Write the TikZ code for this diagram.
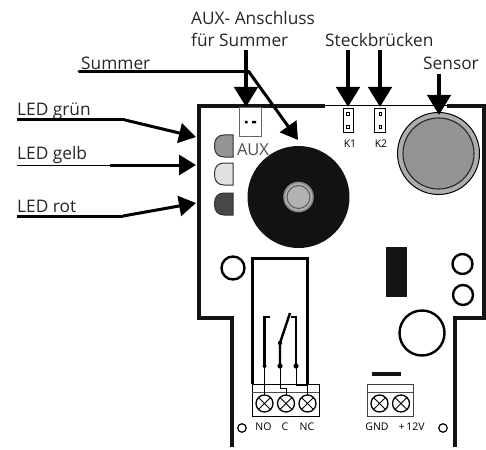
\documentclass[tikz,border=0pt]{standalone}
\usepackage{fontspec}
\setmainfont{Open Sans}
\usetikzlibrary{arrows.meta}
\tikzset{
  px/.style={x=1pt,y=-1pt},
  lab/.style={font=\fontsize{17.3}{18}\selectfont,inner sep=0pt,text=black!85},
  small/.style={font=\fontsize{10.5}{11}\selectfont,inner sep=0pt,text=black},
  board/.style={line width=4pt,black!92},
  lead/.style={line width=3pt,black},
  big/.style={line width=4.4pt,-{Triangle[length=20pt,width=23pt]}},
  mid/.style={line width=3pt,-{Triangle[length=17pt,width=20pt]}},
  hole/.style={circle,draw=black,line width=2.4pt,fill=white,inner sep=0pt},
  screw/.style={circle,draw=black,line width=1.3pt,fill=white,minimum size=17pt,inner sep=0pt,path picture={\draw[line width=1pt] (path picture bounding box.south west)--(path picture bounding box.north east) (path picture bounding box.north west)--(path picture bounding box.south east);}},
  ledshape/.style={draw=black!80,line width=1pt},
  wire/.style={line width=.9pt},
  relay/.style={line width=2.4pt}
}
\begin{document}
\begin{tikzpicture}[px]
\useasboundingbox (0,0) rectangle (486,449);
% board
\draw[board] (325,106) -- (199,106) -- (199,318) -- (232,318) -- (232,447);
\draw[line width=1pt] (325,106) -- (447,106);
\draw[board] (447,106) -- (484,106) -- (484,318) -- (455,318) -- (455,447);
% AUX
\draw[line width=1pt,black!60] (239,108) rectangle (261,137);
\fill (245,121) rectangle (247.5,123.5) (252,121) rectangle (256,123.5);
\node[lab,text=black!70,font=\fontsize{16.5}{17}\selectfont] (aux) at (253,150) {AUX};
% jumpers
\draw[line width=.8pt] (343,108) rectangle (353.5,132);
\draw[line width=.8pt] (374.5,108) rectangle (385.5,132);
\draw[line width=1pt] (346.5,112.5) rectangle (349.5,115.5) (346.5,125.5) rectangle (349.5,128.5);
\draw[line width=1pt] (379,112.5) rectangle (381.5,115.5) (379,125.5) rectangle (381.5,128.5);
\node[small] (k1) at (350,144) {K1};
\node[small] (k2) at (381,144) {K2};
% sensor
\node[circle,draw=black,line width=1pt,fill=black!32,minimum size=82pt,inner sep=0pt] (sensorc) at (438.5,153.5) {};
\node[circle,draw=black!85,line width=1.1pt,fill=black!42,minimum size=71pt,inner sep=0pt] at (438.5,153.5) {};
% LEDs
\draw[ledshape,fill=black!42] (233,135) -- (224,135) .. controls (218,135) and (214.5,139) .. (214.5,145) -- (214.5,147) .. controls (214.5,153) and (218,157) .. (224,157) -- (233,157) -- cycle;
\draw[ledshape,fill=black!12] (233,163) -- (224,163) .. controls (218,163) and (214.5,167) .. (214.5,173) -- (214.5,175) .. controls (214.5,181) and (218,185) .. (224,185) -- (233,185) -- cycle;
\draw[ledshape,fill=black!72] (233,193) -- (224,193) .. controls (218,193) and (214.5,197) .. (214.5,203) -- (214.5,205) .. controls (214.5,211) and (218,215) .. (224,215) -- (233,215) -- cycle;
% summer
\node[circle,fill=black!93,minimum size=102pt,inner sep=0pt] (sum) at (298.5,197) {};
\node[circle,draw=black!45,fill=black!30,line width=1.6pt,minimum size=29pt,inner sep=0pt] at (298.5,197) {};
\node[circle,draw=black!65,line width=1pt,minimum size=23pt,inner sep=0pt] at (298.5,197) {};
% holes
\node[hole,minimum size=23pt] (h1) at (233,268) {};
\node[hole,minimum size=20pt] (h2) at (462.5,264) {};
\node[hole,minimum size=20pt] (h3) at (463,295) {};
\node[hole,minimum size=45pt] (h4) at (422,333) {};
\node[hole,line width=1.2pt,minimum size=8.5pt] (h5) at (242,428) {};
\node[hole,line width=1.2pt,minimum size=8.5pt] (h6) at (443,428) {};
% black block
\fill[black!92] (386,247) rectangle (407,297);
\fill[black!92] (372,372) rectangle (401,376);
% relay
\draw[relay] (252.5,384) -- (252.5,258.5) -- (307.5,258.5) -- (307.5,384);
\draw[relay] (270,317) -- (264.5,317) -- (264.5,366);
\draw[relay] (280,366) -- (280,343) -- (290,313);
\draw[relay] (296,366) -- (296,317) -- (291,317);
\fill (264.5,366) circle (2pt) (280,366) circle (2.6pt) (296,366) circle (2.6pt) (280,343) circle (2.2pt);
% terminals
\draw[line width=1pt] (252,384) rectangle (319,416);
\draw[line width=.7pt,black!70] (252,392.5) -- (319,392.5);
\draw[wire] (264.5,366) -- (264.5,403);
\draw[wire] (280,366) -- (280,388) -- (286,388) -- (286,403);
\draw[wire] (296,366) -- (296,385) -- (307,385) -- (307,403);
\node[screw] (s1) at (264.5,403.5) {};
\node[screw] (s2) at (286,403.5) {};
\node[screw] (s3) at (307.5,403.5) {};
\draw[line width=1pt,black!75] (367.5,384) rectangle (413,416);
\draw[line width=.7pt,black!70] (367.5,392.5) -- (413,392.5);
\node[screw] (s4) at (379.5,403.5) {};
\node[screw] (s5) at (401,403.5) {};
\node[small] (no) at (263.5,427) {NO};
\node[small] (c) at (285,427) {C};
\node[small] (nc) at (307,427) {NC};
\node[small] (gnd) at (377,427) {GND};
\node[small] (pw) at (411.5,427) {+\,12V};
% labels
\node[lab,anchor=west] (a1) at (191,18) {AUX- Anschluss};
\node[lab,anchor=west] (a2) at (191,40) {für Summer};
\node[lab,anchor=west] (st) at (325,40) {Steckbrücken};
\node[lab,anchor=west] (se) at (423,63) {Sensor};
\node[lab,anchor=west] (su) at (81,63) {Summer};
\node[lab,anchor=west] (lg) at (17,111) {LED grün};
\node[lab,anchor=west] (ly) at (17,155) {LED gelb};
\node[lab,anchor=west] (lr) at (17,206) {LED rot};
% leaders
\coordinate (auxt) at (246,107);
\coordinate (k1t) at (348,107);
\coordinate (k2t) at (380,107);
\coordinate (set) at (439,115);
\coordinate (sumt) at (298,140);
\coordinate (ledg) at (196,137);
\coordinate (ledy) at (196,165);
\coordinate (ledr) at (196,203);
\draw[big] (246,50) -- (auxt);
\draw[big] (348,50) -- (k1t);
\draw[big] (380,50) -- (k2t);
\draw[big] (439,74) -- (set);
\draw[lead,line cap=round] (79,72) -- (249,72);
\draw[mid] (249,72) -- (sumt);
\draw[lead] (17,120) -- (125,120);
\draw[mid] (125,120) -- (ledg);
\draw[line width=1pt] (17,165) -- (110,165);
\draw[mid] (110,165) -- (ledy);
\draw[lead] (17,216) -- (123,216);
\draw[mid] (123,216) -- (ledr);
\end{tikzpicture}
\end{document}
